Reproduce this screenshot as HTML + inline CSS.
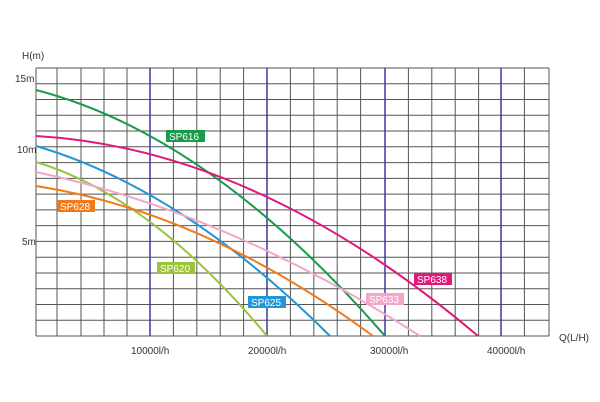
<!DOCTYPE html><html><head><style>body{margin:0;background:#fff}svg{display:block}</style></head><body>
<svg width="600" height="402" xmlns="http://www.w3.org/2000/svg" font-family="Liberation Sans, sans-serif">
<g stroke="#555" stroke-width="1" fill="none">
<path d="M36 68V336M57 68V336M81 68V336M104 68V336M127 68V336M173.4 68V336M196.8 68V336M220.2 68V336M243.6 68V336M290.4 68V336M313.8 68V336M337.2 68V336M360.6 68V336M408.4 68V336M431.8 68V336M455.2 68V336M478.6 68V336M524.4 68V336M549 68V336"/>
<path d="M36 68H549M36 83.8H549M36 99.5H549M36 115.3H549M36 131H549M36 146.8H549M36 162.6H549M36 178.4H549M36 194.1H549M36 209.9H549M36 225.6H549M36 241.4H549M36 257.2H549M36 273H549M36 288.7H549M36 304.5H549M36 320.2H549M36 336H549"/>
</g>
<g stroke="#3a3aa0" stroke-width="1.5"><path d="M150 68V336M267 68V336M385 68V336M501 68V336"/></g>
<g fill="none" stroke-width="2">
<path d="M36 90Q210.5 134.9 385 336" stroke="#1a9a4a"/>
<path d="M36 136Q257 148.8 478 336" stroke="#e0187a"/>
<path d="M36 146Q183 189 330 336" stroke="#2196d8"/>
<path d="M36 162Q151.5 197 267 336" stroke="#9cc43a"/>
<path d="M36 172Q228 212.7 420 336" stroke="#f2a6c8"/>
<path d="M36 186Q204.5 212 373 336" stroke="#f07a1a"/>
</g>
<g font-size="10" fill="#fff">
<rect x="166" y="130" width="39" height="12" fill="#1a9a4a"/><text x="169" y="140">SP616</text>
<rect x="57" y="200" width="38" height="12" fill="#f07a1a"/><text x="60" y="210">SP628</text>
<rect x="157" y="262" width="38" height="12" fill="#9cc43a"/><text x="160" y="272">SP620</text>
<rect x="248" y="296" width="38" height="12" fill="#2196d8"/><text x="251" y="306">SP625</text>
<rect x="366" y="293" width="38" height="12" fill="#f2a6c8"/><text x="369" y="303">SP633</text>
<rect x="414" y="273" width="38" height="12" fill="#e0187a"/><text x="417" y="283">SP638</text>
</g>
<g font-size="10" fill="#333">
<text x="22" y="59">H(m)</text>
<text x="15" y="82">15m</text>
<text x="17" y="153">10m</text>
<text x="22" y="245">5m</text>
<text x="131" y="354">10000l/h</text>
<text x="248" y="354">20000l/h</text>
<text x="370" y="354">30000l/h</text>
<text x="487" y="354">40000l/h</text>
<text x="559" y="341">Q(L/H)</text>
</g>
</svg></body></html>
